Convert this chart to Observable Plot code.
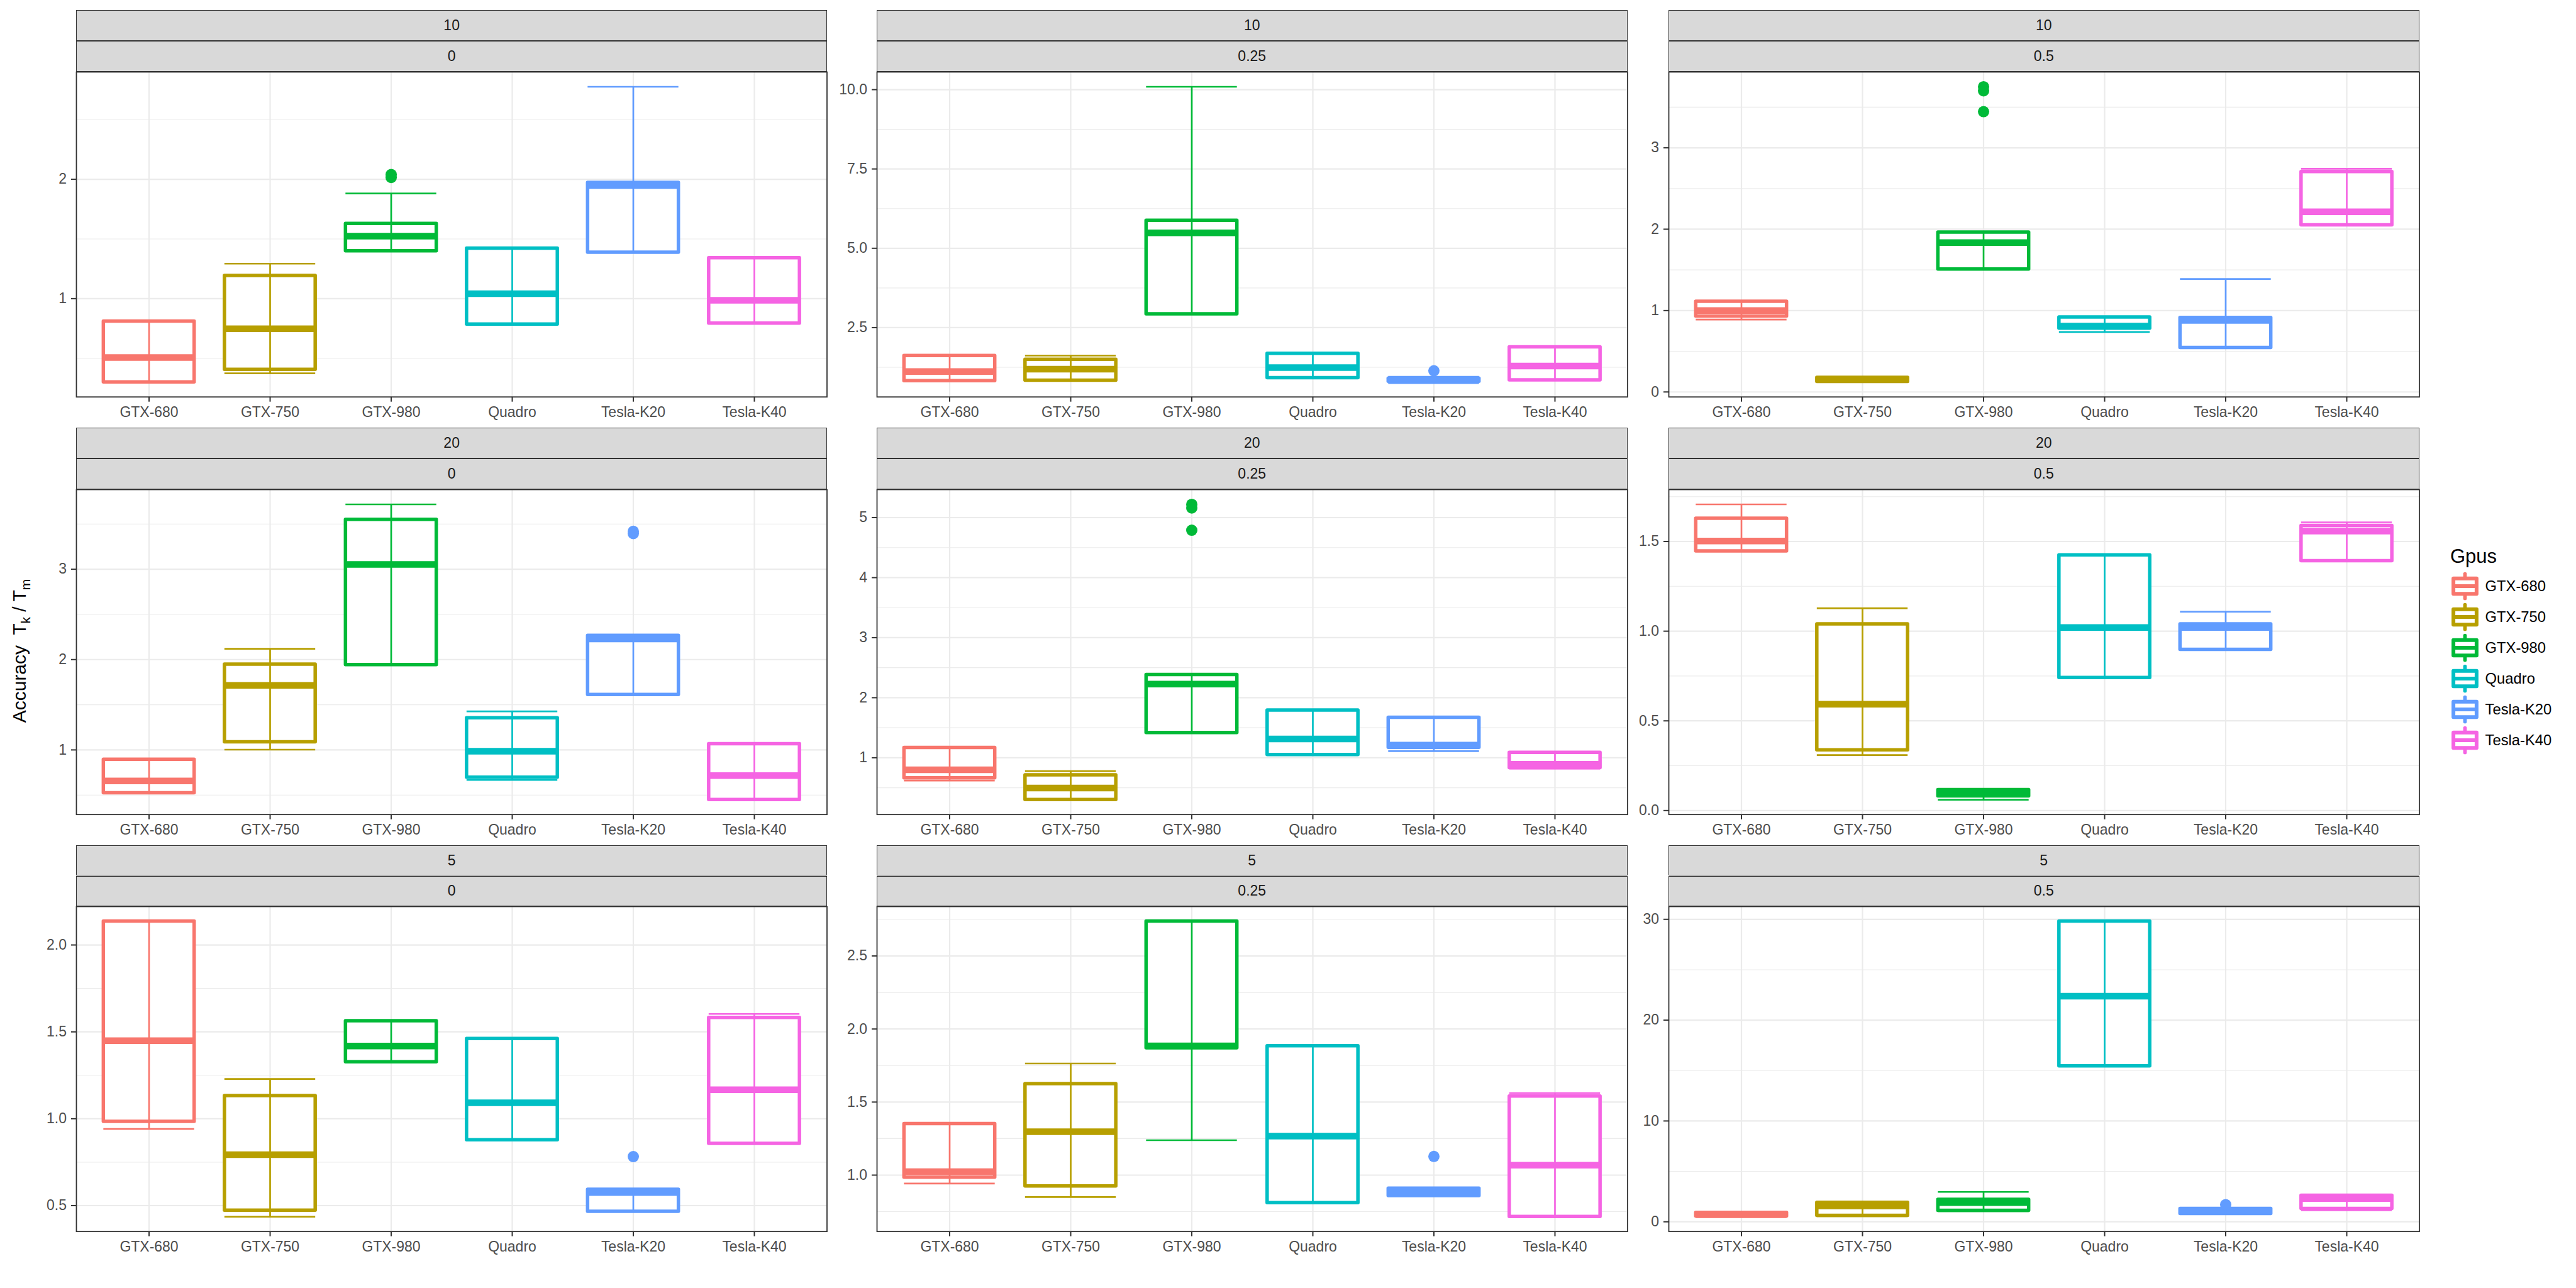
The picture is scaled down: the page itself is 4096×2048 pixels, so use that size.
<!DOCTYPE html>
<html><head><meta charset="utf-8">
<script src="https://cdn.jsdelivr.net/npm/d3@7"></script>
<script src="https://cdn.jsdelivr.net/npm/@observablehq/plot@0.6"></script>
<style>
body{margin:0;background:#fff;}
#chart{position:relative;width:4096px;height:2048px;font-family:"Liberation Sans",Arial,sans-serif;overflow:hidden;background:#fff;}
.strip{position:absolute;background:#d9d9d9;border:1.8px solid #333;box-sizing:border-box;display:flex;align-items:center;justify-content:center;font-size:23px;color:#1a1a1a;}
.pan{position:absolute;}
.pan svg g[aria-label^="x-axis"] path,.pan svg g[aria-label^="x-axis"] line,
.pan svg g[aria-label^="y-axis"] path,.pan svg g[aria-label^="y-axis"] line{stroke-width:2px;stroke:#333;}
.leglab{position:absolute;font-size:23.8px;color:#000;line-height:1;white-space:nowrap;}
</style></head><body><div id="chart"></div>
<script>
// ---------- data ----------
const gpus = ["GTX-680","GTX-750","GTX-980","Quadro","Tesla-K20","Tesla-K40"];
const gpuColors = ["#F8766D","#B79F00","#00BA38","#00BFC4","#619CFF","#F564E3"];
const rowLabels = ["10","20","5"];
const colLabels = ["0","0.25","0.5"];
// panels in row-major order: (10,0),(10,0.25),(10,0.5),(20,0),...,(5,0.5)
const whiskerLow = [
  [0.30, 0.374, 1.399, 0.784, 1.387, 0.793],
  [0.818, 0.835, 2.923, 0.911, 0.78, 0.843],
  [0.89, 0.12, 1.507, 0.737, 0.543, 2.049],
  [0.522, 1.003, 1.941, 0.668, 1.611, 0.448],
  [0.62, 0.30, 1.415, 1.049, 1.11, 0.82],
  [1.446, 0.309, 0.06, 0.74, 0.897, 1.391],
  [0.941, 0.436, 1.326, 0.877, 0.466, 0.857],
  [0.942, 0.85, 1.239, 0.81, 0.858, 0.715],
  [0.5, 0.55, 1.05, 15.44, 0.75, 1.15]
];
const lowerHinge = [
  [0.30, 0.405, 1.399, 0.784, 1.387, 0.793],
  [0.818, 0.835, 2.923, 0.911, 0.80, 0.843],
  [0.93, 0.125, 1.507, 0.78, 0.543, 2.049],
  [0.522, 1.086, 1.941, 0.694, 1.611, 0.448],
  [0.66, 0.30, 1.415, 1.049, 1.17, 0.83],
  [1.446, 0.337, 0.08, 0.74, 0.897, 1.391],
  [0.983, 0.472, 1.326, 0.877, 0.466, 0.857],
  [0.984, 0.924, 1.87, 0.81, 0.858, 0.715],
  [0.55, 0.6, 1.1, 15.44, 0.8, 1.3]
];
const medians = [
  [0.507, 0.748, 1.523, 1.041, 1.948, 0.986],
  [1.114, 1.19, 5.484, 1.24, 0.83, 1.291],
  [1.0, 0.15, 1.836, 0.81, 0.878, 2.214],
  [0.656, 1.715, 3.053, 0.985, 2.228, 0.715],
  [0.80, 0.496, 2.226, 1.312, 1.21, 0.89],
  [1.503, 0.593, 0.10, 1.021, 1.021, 1.558],
  [1.449, 0.793, 1.418, 1.092, 0.575, 1.167],
  [1.024, 1.297, 1.885, 1.267, 0.878, 1.068],
  [0.7, 1.58, 1.9, 22.38, 1.1, 2.3]
];
const upperHinge = [
  [0.81, 1.191, 1.628, 1.421, 1.971, 1.34],
  [1.612, 1.494, 5.873, 1.68, 0.90, 1.883],
  [1.11, 0.175, 1.96, 0.918, 0.911, 2.704],
  [0.893, 1.947, 3.549, 1.353, 2.264, 1.065],
  [1.165, 0.71, 2.382, 1.789, 1.669, 1.085],
  [1.628, 1.039, 0.115, 1.424, 1.039, 1.588],
  [2.136, 1.132, 1.562, 1.46, 0.592, 1.581],
  [1.351, 1.624, 2.737, 1.884, 0.908, 1.539],
  [0.9, 1.9, 2.2, 29.8, 1.3, 2.6]
];
const whiskerHigh = [
  [0.81, 1.293, 1.881, 1.421, 2.775, 1.34],
  [1.612, 1.62, 10.09, 1.68, 0.95, 1.883],
  [1.12, 0.185, 1.96, 0.918, 1.388, 2.743],
  [0.893, 2.119, 3.718, 1.427, 2.264, 1.065],
  [1.165, 0.777, 2.382, 1.789, 1.669, 1.085],
  [1.707, 1.128, 0.12, 1.424, 1.109, 1.607],
  [2.136, 1.229, 1.562, 1.46, 0.592, 1.603],
  [1.351, 1.764, 2.737, 1.884, 0.908, 1.561],
  [0.95, 1.95, 2.96, 29.8, 1.35, 2.7]
];
const outliers = [
  [["GTX-980", 2.04], ["GTX-980", 2.015]],
  [["Tesla-K20", 1.14]],
  [["GTX-980", 3.75], ["GTX-980", 3.70], ["GTX-980", 3.444]],
  [["Tesla-K20", 3.42], ["Tesla-K20", 3.395]],
  [["GTX-980", 5.22], ["GTX-980", 5.16], ["GTX-980", 4.79]],
  [],
  [["Tesla-K20", 0.782]],
  [["Tesla-K20", 1.128]],
  [["Tesla-K20", 1.7]]
];
const yTicks = [
  [1, 2], [2.5, 5, 7.5, 10], [0, 1, 2, 3],
  [1, 2, 3], [1, 2, 3, 4, 5], [0, 0.5, 1, 1.5],
  [0.5, 1, 1.5, 2], [1, 1.5, 2, 2.5], [0, 10, 20, 30]
];
const yTickLabels = [
  ["1","2"], ["2.5","5.0","7.5","10.0"], ["0","1","2","3"],
  ["1","2","3"], ["1","2","3","4","5"], ["0.0","0.5","1.0","1.5"],
  ["0.5","1.0","1.5","2.0"], ["1.0","1.5","2.0","2.5"], ["0","10","20","30"]
];
const legendTitle = "Gpus";

// ---------- layout ----------
const colX = [121.4, 1394.0, 2653.0];
const rowTop = [16.4, 680.2, 1343.6];
const panelW = 1193.5, panelH = 516.7, stripH = 48.9;
const ML = 80, MR = 3, MT = 3, MB = 45;
const chart = document.getElementById("chart");
const colorScale = {domain: gpus, range: gpuColors};

function makePanel(p) {
  const rows = gpus.map((g, i) => ({
    i, g, lo: whiskerLow[p][i], q1: lowerHinge[p][i], med: medians[p][i],
    q3: upperHinge[p][i], hi: whiskerHigh[p][i]
  }));
  const outs = outliers[p].map(([g, v]) => ({g, i: gpus.indexOf(g), v}));
  const vals = rows.flatMap(r => [r.lo, r.hi]).concat(outs.map(o => o.v));
  const mn = d3.min(vals), mx = d3.max(vals), pad = (mx - mn) * 0.05;
  const dom = [mn - pad, mx + pad];
  const ticks = yTicks[p];
  const labMap = new Map(ticks.map((t, k) => [t, yTickLabels[p][k]]));
  const st = ticks[1] - ticks[0];
  const minor = [];
  for (let k = -2; k < ticks.length + 1; k++) {
    const v = ticks[0] + (k + 0.5) * st;
    if (v > dom[0] && v < dom[1]) minor.push(v);
  }
  const major = ticks.filter(t => t >= dom[0] && t <= dom[1]);
  const hw = 0.375;
  return Plot.plot({
    width: ML + panelW + MR, height: MT + panelH + MB,
    marginLeft: ML, marginRight: MR, marginTop: MT, marginBottom: MB,
    style: {background: "transparent", overflow: "visible", maxWidth: "none",
            fontSize: "23px", fontFamily: "'Liberation Sans', Arial, sans-serif", color: "#4d4d4d"},
    x: {type: "linear", domain: [-0.6, 5.6], ticks: d3.range(gpus.length), tickFormat: i => gpus[i],
        tickSize: 8, tickPadding: 7, label: null},
    y: {domain: dom, ticks: major, tickFormat: t => labMap.get(t), tickSize: 8, tickPadding: 7.5, label: null},
    color: colorScale,
    marks: [
      Plot.ruleY(minor, {stroke: "#ebebeb", strokeWidth: 1.1}),
      Plot.ruleY(major, {stroke: "#ebebeb", strokeWidth: 2.2}),
      Plot.ruleX(d3.range(gpus.length), {stroke: "#ebebeb", strokeWidth: 2.2}),
      Plot.rect(rows, {x1: d => d.i - hw, x2: d => d.i + hw, y1: "q1", y2: "q3",
        fill: "white", stroke: "g", strokeWidth: 5.5, strokeLinejoin: "round"}),
      Plot.ruleY(rows, {y: "med", x1: d => d.i - hw, x2: d => d.i + hw, stroke: "g", strokeWidth: 10.5}),
      Plot.ruleX(rows, {x: "i", y1: "lo", y2: "hi", stroke: "g", strokeWidth: 2.7}),
      Plot.ruleY(rows, {y: "lo", x1: d => d.i - hw, x2: d => d.i + hw, stroke: "g", strokeWidth: 2.7}),
      Plot.ruleY(rows, {y: "hi", x1: d => d.i - hw, x2: d => d.i + hw, stroke: "g", strokeWidth: 2.7}),
      Plot.dot(outs, {x: "i", y: "v", r: 9, fill: "g", stroke: "none"}),
      Plot.frame({stroke: "#333", strokeWidth: 1.8})
    ]
  });
}

for (let r = 0; r < 3; r++) {
  for (let c = 0; c < 3; c++) {
    const p = r * 3 + c;
    const s1 = document.createElement("div");
    s1.className = "strip";
    Object.assign(s1.style, {left: colX[c] + "px", top: rowTop[r] + "px", width: panelW + "px", height: stripH + "px"});
    s1.textContent = rowLabels[r];
    chart.appendChild(s1);
    const s2 = document.createElement("div");
    s2.className = "strip";
    Object.assign(s2.style, {left: colX[c] + "px", top: (rowTop[r] + stripH) + "px", width: panelW + "px", height: stripH + "px"});
    s2.textContent = colLabels[c];
    chart.appendChild(s2);
    const wrap = document.createElement("div");
    wrap.className = "pan";
    wrap.style.left = (colX[c] - ML) + "px";
    wrap.style.top = (rowTop[r] + 2 * stripH - MT) + "px";
    wrap.appendChild(makePanel(p));
    chart.appendChild(wrap);
  }
}

// y title
const yt = document.createElement("div");
Object.assign(yt.style, {position: "absolute", left: "33px", top: "1035px", fontSize: "30px", color: "#000",
  whiteSpace: "nowrap", transform: "translate(-50%,-50%) rotate(-90deg)", lineHeight: "1"});
yt.innerHTML = "Accuracy&nbsp; T<sub style='font-size:21px'>k</sub> / T<sub style='font-size:21px'>m</sub>";
chart.appendChild(yt);

// legend
const lt = document.createElement("div");
lt.className = "leglab";
Object.assign(lt.style, {left: "3896px", top: "869px", fontSize: "31px"});
lt.textContent = legendTitle;
chart.appendChild(lt);
const keyY0 = 932, keyStep = 48.9;
gpus.forEach((g, i) => {
  const cy = keyY0 + i * keyStep;
  const svg = d3.select(chart).append("svg")
    .style("position", "absolute").style("left", "3894px").style("top", (cy - 25) + "px")
    .attr("width", 52).attr("height", 50);
  const col = gpuColors[i];
  svg.append("line").attr("x1", 25.5).attr("x2", 25.5).attr("y1", 5.5).attr("y2", 44.5)
    .attr("stroke", col).attr("stroke-width", 5.7).attr("stroke-linecap", "round");
  svg.append("rect").attr("x", 7.1).attr("y", 12.7).attr("width", 36.8).attr("height", 24.6)
    .attr("fill", "white").attr("stroke", col).attr("stroke-width", 6).attr("stroke-linejoin", "round");
  svg.append("line").attr("x1", 7.1).attr("x2", 43.9).attr("y1", 25).attr("y2", 25)
    .attr("stroke", col).attr("stroke-width", 6);
  const lab = document.createElement("div");
  lab.className = "leglab";
  Object.assign(lab.style, {left: "3951.5px", top: (cy - 11.6) + "px"});
  lab.textContent = g;
  chart.appendChild(lab);
});
</script></body></html>
